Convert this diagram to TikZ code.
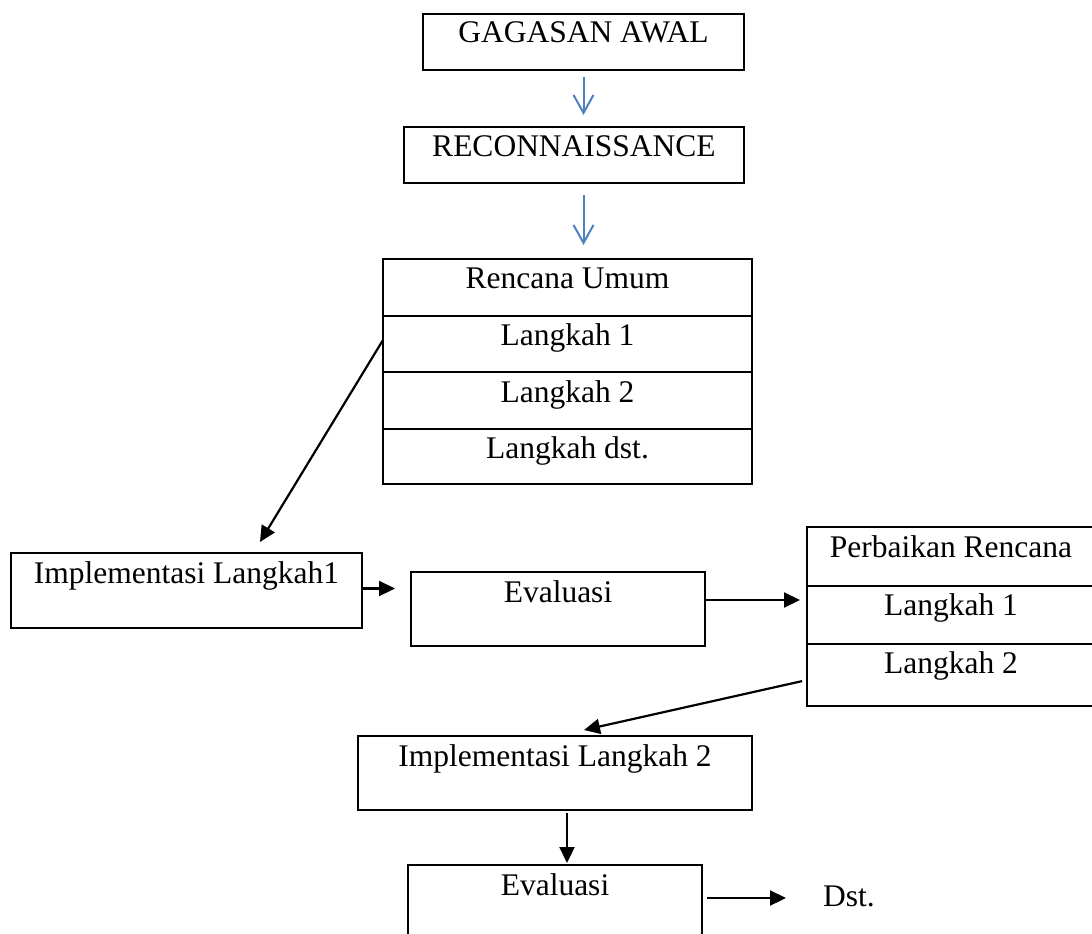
\documentclass[tikz,border=0pt]{standalone}
\usepackage{fontspec}
\setmainfont{Liberation Serif}
\usetikzlibrary{arrows.meta,calc}
\definecolor{arrowblue}{HTML}{4F81BD}
\newcommand\tnrsize{\fontsize{31.5pt}{36pt}\selectfont}
\begin{document}
\begin{tikzpicture}[x=1pt,y=-1pt,
  box/.style={draw, line width=2.2pt, inner sep=0pt, outer sep=0pt, anchor=north west, font=\tnrsize},
  blk/.style={line width=2.2pt, -{Triangle[length=16pt,width=15pt]}},
  blu/.style={arrowblue, line width=2pt, -{Straight Barb[length=18pt,width=20pt]}}]
\useasboundingbox (0,0) rectangle (1092,934);
\clip (0,0) rectangle (1092,934);
% top boxes
\node[box, minimum width=321pt, text height=29pt, text depth=27pt] (g) at (423,14) {GAGASAN AWAL};
\node[box, minimum width=340pt, text height=29pt, text depth=27pt] (r) at (404,127) {RECONNAISSANCE};
% Rencana Umum table
\node[box, minimum width=369pt, text height=29pt, text depth=28pt] (ru0) at (383,259) {Rencana Umum};
\node[box, minimum width=369pt, text height=29pt, text depth=27pt] (ru1) at (383,316) {Langkah 1};
\node[box, minimum width=369pt, text height=30pt, text depth=27pt] (ru2) at (383,372) {Langkah 2};
\node[box, minimum width=369pt, text height=29pt, text depth=26pt] (ru3) at (383,429) {Langkah dst.};
% middle row
\node[box, minimum width=351pt, text height=30pt, text depth=45pt] (il1) at (11,553) {Implementasi Langkah1};
\node[box, minimum width=294pt, text height=30pt, text depth=44pt] (ev1) at (411,572) {Evaluasi};
\node[box, minimum width=288pt, text height=30pt, text depth=29pt] (pr0) at (807,527) {Perbaikan Rencana};
\node[box, minimum width=288pt, text height=29pt, text depth=29pt] (pr1) at (807,586) {Langkah 1};
\node[box, minimum width=288pt, text height=29pt, text depth=33pt] (pr2) at (807,644) {Langkah 2};
% bottom
\node[box, minimum width=394pt, text height=30pt, text depth=44pt] (il2) at (358,736) {Implementasi Langkah 2};
\node[box, minimum width=294pt, text height=30pt, text depth=80pt] (ev2) at (408,865) {Evaluasi};
\node[anchor=base west, inner sep=0pt, font=\tnrsize] (dst) at (823,906) {Dst.};
% connectors
\draw[blu, shorten <=7pt, shorten >=12pt] (g.south) -- (g.south |- r.north);
\draw[blu, shorten <=12pt, shorten >=14pt] (g.south |- r.south) -- (g.south |- ru0.north);
\draw[blk] ([yshift=4pt]ru1.west) -- ([xshift=73.5pt,yshift=11pt]il1.north);
\draw[blk, shorten >=16pt] ([yshift=2pt]il1.east) -- ([yshift=2pt]il1.east -| ev1.west);
\draw[blk, shorten >=7pt] ([yshift=9pt]ev1.east) -- ([yshift=9pt]ev1.east -| pr1.west);
\draw[blk, shorten <=5pt] ([yshift=-5pt]pr2.west) -- ([xshift=29pt,yshift=6pt]il2.north);
\draw[blk, shorten <=3pt, shorten >=2pt] ([xshift=12pt]il2.south) -- ([xshift=12pt]il2.south |- ev2.north);
\draw[blk, shorten <=5pt, shorten >=37pt] ([yshift=-33pt]ev2.north east) -- ([yshift=-33pt]ev2.north east -| dst.west);
\end{tikzpicture}
\end{document}
